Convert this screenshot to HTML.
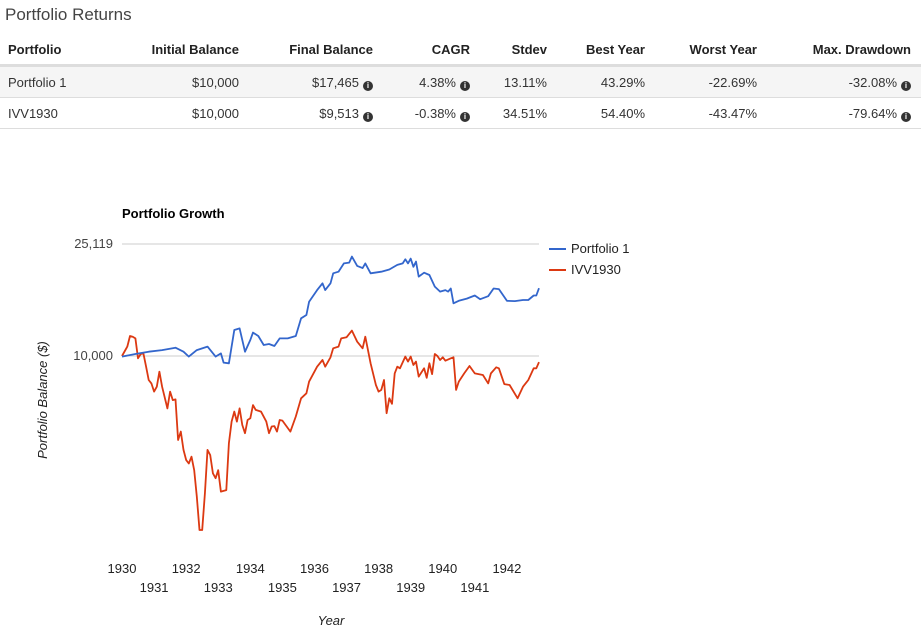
<!DOCTYPE html>
<html><head><meta charset="utf-8"><style>
body{margin:0;width:921px;height:639px;background:#fff;font-family:"Liberation Sans Narrow","Liberation Sans",sans-serif;color:#333;overflow:hidden;position:relative}
.t{position:absolute;font-size:13px;white-space:nowrap}
.h{font-weight:bold;color:#222}
.r{text-align:right}
.i{display:inline-block;width:10px;height:10px;border-radius:50%;background:#333;color:#fff;font-size:8px;line-height:10px;text-align:center;font-weight:bold;margin-left:4px;vertical-align:-1px}
</style></head><body>
<div class="t" style="left:5px;top:5px;font-size:17px;color:#444">Portfolio Returns</div>
<div>
<div style="position:absolute;left:0;top:64px;width:921px;height:3px;background:#ddd"></div>
<div style="position:absolute;left:0;top:67px;width:921px;height:30px;background:#f5f5f5;border-bottom:1px solid #ddd"></div>
<div style="position:absolute;left:0;top:98px;width:921px;height:30px;border-bottom:1px solid #ddd"></div>
<div class="t h" style="left:8px;top:42px">Portfolio</div>
<div class="t h r" style="right:682px;top:42px">Initial Balance</div>
<div class="t h r" style="right:548px;top:42px">Final Balance</div>
<div class="t h r" style="right:451px;top:42px">CAGR</div>
<div class="t h r" style="right:374px;top:42px">Stdev</div>
<div class="t h r" style="right:276px;top:42px">Best Year</div>
<div class="t h r" style="right:164px;top:42px">Worst Year</div>
<div class="t h r" style="right:10px;top:42px">Max. Drawdown</div>

<div class="t" style="left:8px;top:75px">Portfolio 1</div>
<div class="t r" style="right:682px;top:75px">$10,000</div>
<div class="t r" style="right:548px;top:75px">$17,465<span class="i">i</span></div>
<div class="t r" style="right:451px;top:75px">4.38%<span class="i">i</span></div>
<div class="t r" style="right:374px;top:75px">13.11%</div>
<div class="t r" style="right:276px;top:75px">43.29%</div>
<div class="t r" style="right:164px;top:75px">-22.69%</div>
<div class="t r" style="right:10px;top:75px">-32.08%<span class="i">i</span></div>

<div class="t" style="left:8px;top:106px">IVV1930</div>
<div class="t r" style="right:682px;top:106px">$10,000</div>
<div class="t r" style="right:548px;top:106px">$9,513<span class="i">i</span></div>
<div class="t r" style="right:451px;top:106px">-0.38%<span class="i">i</span></div>
<div class="t r" style="right:374px;top:106px">34.51%</div>
<div class="t r" style="right:276px;top:106px">54.40%</div>
<div class="t r" style="right:164px;top:106px">-43.47%</div>
<div class="t r" style="right:10px;top:106px">-79.64%<span class="i">i</span></div>
</div>

<svg id="chart" width="921" height="639" style="position:absolute;left:0;top:0" font-family="Liberation Sans Narrow, Liberation Sans, sans-serif"></svg>
<script>
const blueMonths=[0,5,10,15,20,23,25,28,32,35,37,38,40,42,44,46,48,49,51,53,55,57,59,62,65,67,69,70,73,75,76,78,79,81,83,85,86,88,90,91,93,97,100,103,105,106,107,108,109,110,111,113,115,117,119,121,122,123,124,126,129,132,134,137,139,141,144,147,150,152,154,155,156];
const blueValues=[9950,10165,10360,10500,10710,10360,9950,10500,10800,9950,10220,9470,9415,12380,12550,10360,11410,12120,11790,10950,11040,10860,11560,11560,11790,13630,14010,15630,17200,18180,17200,18180,19740,20000,21420,21550,22640,20980,20600,21420,19740,20000,20370,21150,21420,22150,21420,22270,20830,21740,19210,19830,19470,17690,16980,17200,16980,17420,15420,15740,16030,16440,15950,16350,17420,17340,15740,15710,15850,15850,16440,16440,17465];
const redMonths=[0,2,3,4,5,6,7,8,9,10,11,12,13,14,15,17,18,19,20,21,22,23,24,25,26,27,28,29,30,31,32,33,34,35,36,37,39,40,41,42,43,44,45,46,47,48,49,50,52,54,55,56,57,58,59,60,63,65,67,69,70,73,75,76,78,79,81,82,84,86,88,90,91,93,95,96,97,98,99,100,101,102,103,104,106,107,108,109,110,111,113,114,115,116,117,118,119,120,121,123,124,125,126,128,130,132,135,137,138,140,141,143,145,148,150,152,154,155,156];
const redValues=[10000,10800,11790,11720,11560,9810,10170,10220,9160,8210,7980,7460,7770,8790,7770,6500,7460,6960,7000,5010,5370,4620,4250,4130,4370,3910,3150,2390,2390,3230,4620,4430,3810,3660,3910,3280,3320,4880,5830,6330,5830,6500,5670,5300,5910,5990,6680,6420,6330,5830,5300,5600,5620,5370,5910,5880,5370,6080,7060,7360,8100,9160,9680,9160,9890,10650,10800,11560,11660,12320,11250,10650,11720,9415,7880,7460,7570,8210,6250,7060,6750,8670,9160,9040,9950,9550,9950,9290,9550,8440,9040,8360,9415,8620,10170,10000,9680,9890,9620,9810,9890,7570,8100,8670,9210,8670,8550,7980,8670,9110,9040,7940,7880,7060,7770,8210,9040,9040,9513];
const yTicks=[10000,25119];
const yTickLabels=["10,000","25,119"];
const years=[1930,1931,1932,1933,1934,1935,1936,1937,1938,1939,1940,1941,1942];
const seriesNames=["Portfolio 1","IVV1930"];

const svg=document.getElementById('chart');
const NS='http://www.w3.org/2000/svg';
const X0=122,X1=539,TOTAL=156;
const xM=m=>X0+m*(X1-X0)/TOTAL;
const xY=y=>xM((y-1930)*12);
const yV=v=>356-(Math.log10(v)-4)*280;
function mk(tag,attrs){const e=document.createElementNS(NS,tag);for(const k in attrs)e.setAttribute(k,attrs[k]);svg.appendChild(e);return e;}

const title=mk('text',{x:122,y:218,'font-size':13,'font-weight':'bold',fill:'#000'});title.textContent='Portfolio Growth';



yTicks.forEach((v,i)=>{
 const g=mk('line',{x1:X0,x2:X1,y1:yV(v),y2:yV(v),stroke:'#ccc','stroke-width':1});
 
 
 const t=mk('text',{x:113,y:yV(v)+4,'text-anchor':'end','font-size':13,fill:'#444'});t.textContent=yTickLabels[i];
 
 
});
years.forEach((y,i)=>{
 const t=mk('text',{x:xY(y),y:(i%2===0)?573:592,'text-anchor':'middle','font-size':13,fill:'#222'});t.textContent=y;
 
 
});
const yt=mk('text',{x:0,y:0,transform:'translate(47,400) rotate(-90)','text-anchor':'middle','font-size':13,'font-style':'italic',fill:'#222'});yt.textContent='Portfolio Balance ($)';


const xt=mk('text',{x:331,y:625,'text-anchor':'middle','font-size':13,'font-style':'italic',fill:'#222'});xt.textContent='Year';



function path(ms,vs,color,name){
 const d=ms.map((m,i)=>(i?'L':'M')+xM(m).toFixed(1)+','+yV(vs[i]).toFixed(1)).join('');
 const p=mk('path',{d:d,fill:'none',stroke:color,'stroke-width':1.8,'stroke-linejoin':'round'});
 
 
}
path(redMonths,redValues,'#dc3912','line-ivv1930');
path(blueMonths,blueValues,'#3366cc','line-portfolio-1');

[['#3366cc',249],['#dc3912',270]].forEach((c,i)=>{
 const l=mk('line',{x1:549,x2:566,y1:c[1],y2:c[1],stroke:c[0],'stroke-width':2});
 
 
 const t=mk('text',{x:571,y:c[1]+4,'font-size':13,fill:'#222'});t.textContent=seriesNames[i];
 
 
});
</script>
</body></html>
